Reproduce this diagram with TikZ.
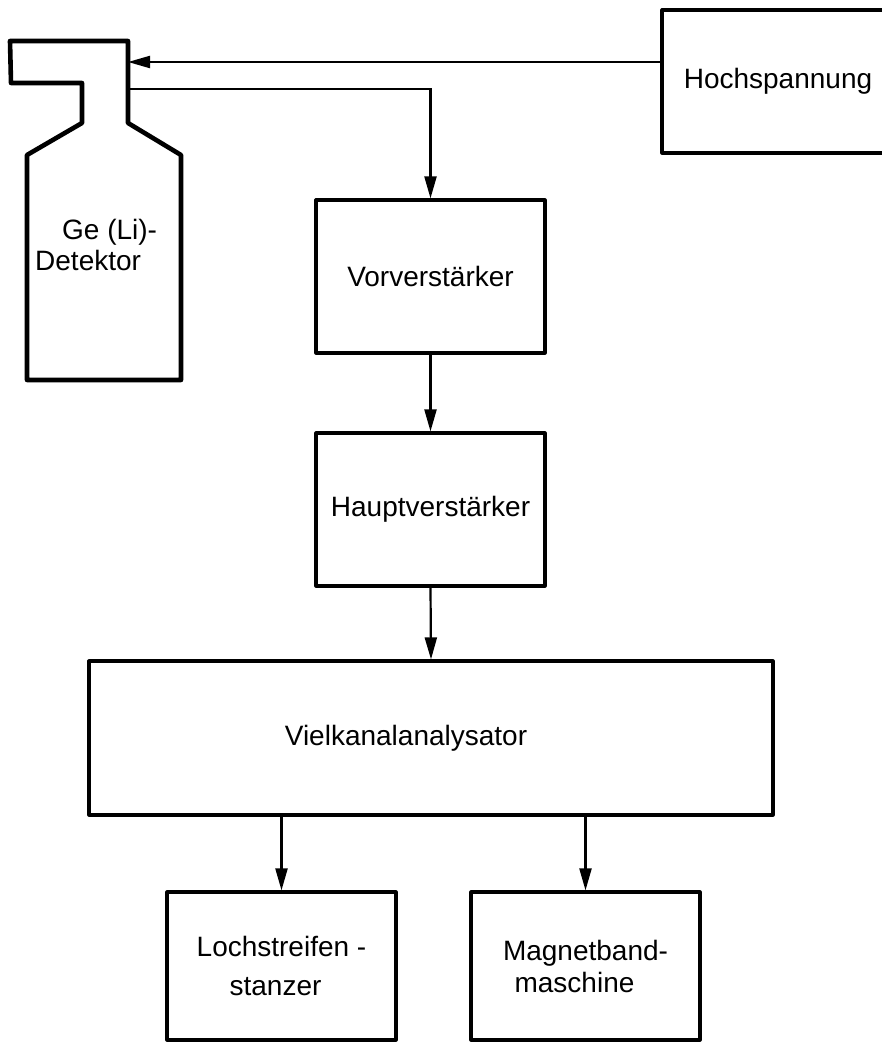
\documentclass[tikz,border=0pt]{standalone}
\usepackage{fontspec}
\setmainfont{Liberation Sans}
\usetikzlibrary{arrows.meta}
\tikzset{
  blockbox/.style={draw, line width=3.2pt, line join=round, rectangle, inner sep=0pt,
    font=\fontsize{28}{36}\selectfont, align=center},
  conn/.style={line width=2.2pt},
  arr/.style={conn, -{Triangle[length=22pt,width=12pt]}},
  detshape/.style={line width=4.6pt, line join=round},
  labeltext/.style={font=\fontsize{28}{31}\selectfont, inner sep=0pt}
}
\begin{document}
\begin{tikzpicture}[x=1pt,y=-1pt]
\useasboundingbox (0,0) rectangle (882,1043);
\clip (0,0) rectangle (882,1043);
\fill[white] (0,0) rectangle (882,1043);
% detector
\draw[detshape] (10,41) -- (128,41) -- (128,123) -- (181,155) -- (181,380) -- (27,380)
  -- (27,155) -- (82,123) -- (82,83) -- (11,83) -- cycle;
\node[labeltext, anchor=west, align=left] (det) at (35,245) {\hspace*{27pt}Ge (Li)-\\Detektor};
\coordinate (detin) at (128,62);
\coordinate (detout) at (128,89);
% boxes
\node[blockbox, minimum width=232pt, minimum height=143pt] (hoch) at (778,81.5) {Hochspannung};
\node[blockbox, minimum width=229pt, minimum height=153pt] (vor) at (430.5,276.5) {Vorverst\"arker};
\node[blockbox, minimum width=229pt, minimum height=153pt] (haupt) at (430.5,509.5) {Hauptverst\"arker};
\node[blockbox, minimum width=684pt, minimum height=154pt] (viel) at (431,738) {Vielkanalanalysator\hspace*{50pt}};
\node[blockbox, minimum width=229pt, minimum height=148pt, font=\fontsize{28}{39}\selectfont] (loch) at (281.5,966) {Lochstreifen -\\stanzer\hspace*{12pt}};
\node[blockbox, minimum width=229pt, minimum height=148pt, font=\fontsize{28}{32}\selectfont] (mag) at (585.5,966) {Magnetband-\\maschine\hspace*{22pt}};
% connectors
\draw[arr] (hoch.west |- detin) -- (detin);
\draw[arr] (detout) -- (vor.north |- detout) -- (vor.north);
\draw[arr] (vor.south) -- (haupt.north);
\draw[arr] (haupt.south) -- (viel.north);
\draw[arr] (viel.south -| loch.north) -- (loch.north);
\draw[arr] (viel.south -| mag.north) -- (mag.north);
\end{tikzpicture}
\end{document}
